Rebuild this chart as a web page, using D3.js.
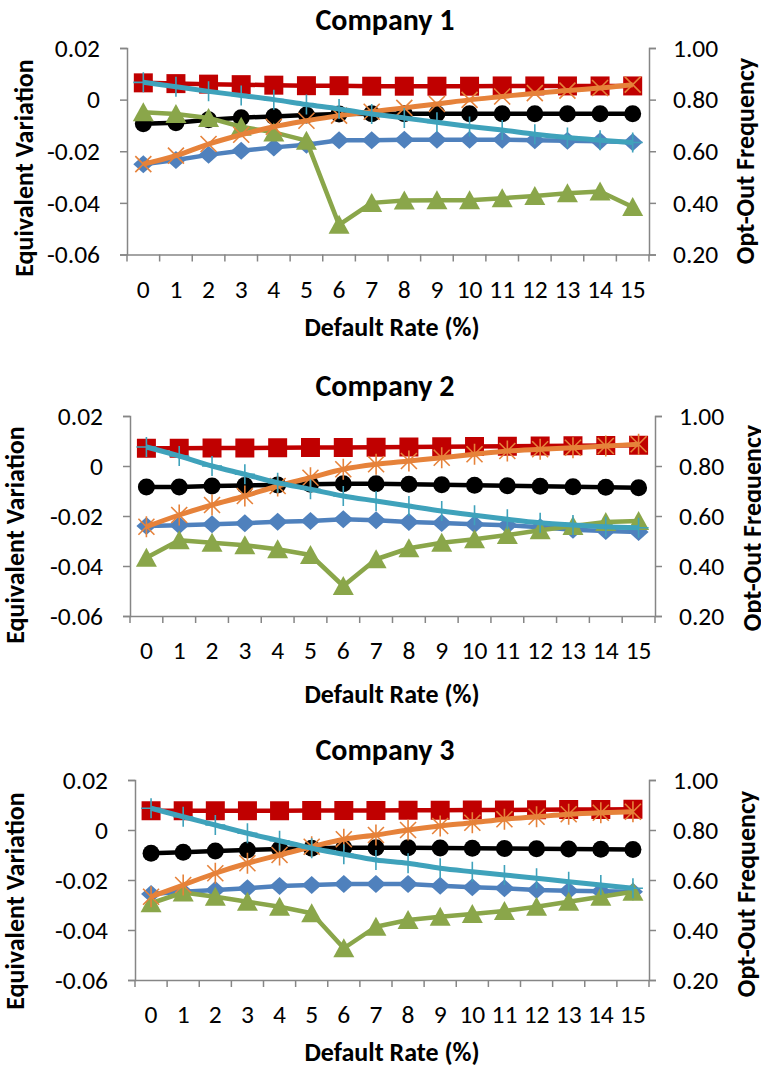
<!DOCTYPE html>
<html><head><meta charset="utf-8">
<script src="https://cdn.jsdelivr.net/npm/d3@7"></script>
<style>
html,body{margin:0;padding:0;background:#fff;}
svg{display:block;font-family:"Carlito","Open Sans",sans-serif;}
</style></head>
<body><svg id="chart" width="761" height="1069"></svg>
<script>
// ---------- data ----------
const categories = ["0","1","2","3","4","5","6","7","8","9","10","11","12","13","14","15"];
const evTicks = [0.02, 0, -0.02, -0.04, -0.06];
const evTickLabels = ["0.02","0","-0.02","-0.04","-0.06"];
const ofTicks = [1.0, 0.8, 0.6, 0.4, 0.2];
const ofTickLabels = ["1.00","0.80","0.60","0.40","0.20"];
const titles = ["Company 1","Company 2","Company 3"];

// Company 1 (left axis: equivalent variation; right axis: opt-out frequency)
const blue1  = [-0.025,-0.0234,-0.0214,-0.0198,-0.0185,-0.0175,-0.0157,-0.0157,-0.0155,-0.0155,-0.0155,-0.0155,-0.0157,-0.0159,-0.0161,-0.0165];
const red1   = [0.0065,0.0062,0.006,0.0058,0.0056,0.0054,0.0054,0.0052,0.0052,0.0052,0.0052,0.0053,0.0053,0.0053,0.0053,0.0053];
const black1 = [-0.0093,-0.009,-0.0078,-0.007,-0.0065,-0.006,-0.0056,-0.0055,-0.0055,-0.0055,-0.0055,-0.0055,-0.0055,-0.0055,-0.0055,-0.0055];
const green1 = [-0.0049,-0.0056,-0.0071,-0.0105,-0.0127,-0.0159,-0.0485,-0.040,-0.0391,-0.039,-0.039,-0.0382,-0.0373,-0.0363,-0.0356,-0.0416];
const orange1= [0.55,0.583,0.628,0.664,0.695,0.718,0.738,0.753,0.768,0.783,0.799,0.812,0.825,0.835,0.845,0.858];
const teal1  = [0.867,0.85,0.832,0.816,0.80,0.781,0.764,0.744,0.729,0.712,0.696,0.682,0.666,0.653,0.643,0.634];

// Company 2
const blue2  = [-0.024,-0.0237,-0.0233,-0.0229,-0.0223,-0.022,-0.0213,-0.0217,-0.0224,-0.0228,-0.0233,-0.0237,-0.0245,-0.0255,-0.026,-0.0264];
const red2   = [0.0071,0.0071,0.0072,0.0072,0.0073,0.0074,0.0074,0.0075,0.0076,0.0077,0.0078,0.0079,0.008,0.0081,0.0082,0.0083];
const black2 = [-0.0084,-0.0084,-0.008,-0.0078,-0.0076,-0.0073,-0.0071,-0.0071,-0.0073,-0.0075,-0.0077,-0.0079,-0.0081,-0.0083,-0.0085,-0.0087];
const green2 = [-0.0367,-0.0297,-0.0307,-0.0317,-0.0333,-0.0356,-0.048,-0.0373,-0.0329,-0.0307,-0.0293,-0.0276,-0.0257,-0.024,-0.0224,-0.022];
const orange2= [0.557,0.604,0.644,0.68,0.72,0.753,0.787,0.807,0.82,0.833,0.847,0.86,0.867,0.873,0.88,0.887];
const teal2  = [0.876,0.84,0.80,0.767,0.733,0.707,0.68,0.66,0.64,0.62,0.603,0.587,0.573,0.564,0.557,0.553];

// Company 3
const blue3  = [-0.0256,-0.0247,-0.024,-0.0233,-0.0224,-0.022,-0.0216,-0.0216,-0.0216,-0.0223,-0.0229,-0.0233,-0.024,-0.0243,-0.0245,-0.0247];
const red3   = [0.0077,0.0077,0.0077,0.0077,0.0077,0.0078,0.0078,0.0078,0.0079,0.0079,0.008,0.008,0.0081,0.0082,0.0082,0.0083];
const black3 = [-0.0093,-0.0089,-0.0084,-0.008,-0.0076,-0.0073,-0.0071,-0.0071,-0.0071,-0.0072,-0.0073,-0.0074,-0.0075,-0.0076,-0.0077,-0.0078];
const green3 = [-0.0293,-0.025,-0.0267,-0.0287,-0.0307,-0.0333,-0.0473,-0.0387,-0.036,-0.0347,-0.0336,-0.0324,-0.0307,-0.0287,-0.0267,-0.0247];
const orange3= [0.533,0.58,0.627,0.667,0.70,0.733,0.763,0.78,0.80,0.816,0.829,0.843,0.853,0.863,0.869,0.873];
const teal3  = [0.887,0.853,0.82,0.787,0.757,0.727,0.703,0.68,0.667,0.647,0.633,0.62,0.607,0.593,0.58,0.567];

// ---------- layout ----------
const layouts = [
  {l:127,r:649,t:48,b:254.5,titleY:30,xTickY:298,xTitleY:336,lTitleX:24,lTitleY:168,rTitleX:745,rTitleY:161},
  {l:130,r:655,t:416,b:616,titleY:396,xTickY:659,xTitleY:703,lTitleX:15,lTitleY:535,rTitleX:752,rTitleY:528},
  {l:135,r:649,t:780,b:980,titleY:760,xTickY:1023,xTitleY:1061,lTitleX:15,lTitleY:901,rTitleX:746,rTitleY:894}
];
const panels = [
  {ev:{blue:blue1,red:red1,black:black1,green:green1},of:{orange:orange1,teal:teal1},orangeMarker:"x"},
  {ev:{blue:blue2,red:red2,black:black2,green:green2},of:{orange:orange2,teal:teal2},orangeMarker:"star"},
  {ev:{blue:blue3,red:red3,black:black3,green:green3},of:{orange:orange3,teal:teal3},orangeMarker:"star"}
];
const colors = {blue:"#4F81BD",red:"#C00000",black:"#000000",green:"#8AA64A",orange:"#E6823A",teal:"#3FA2BB"};
const axisColor = "#868686";
const tickFont = 25.5, axisTitleFont = 26, titleFont = 30;
const svg = d3.select("#chart");

function markerPath(type){
  switch(type){
    case "diamond": return "M0,-9L10,0L0,9L-10,0Z";
    case "square": return "M-9.5,-9.5H9.5V9.5H-9.5Z";
    case "circle": return d3.symbol(d3.symbolCircle, Math.PI*8.5*8.5)();
    case "triangle": return "M0,-10L10.5,9L-10.5,9Z";
    case "x": return "M-8,-8L8,8M-8,8L8,-8";
    case "star": return "M-8,-8L8,8M-8,8L8,-8M0,-10.5V10.5";
    case "plus": return "M0,-10V10M-10,0H10";
  }
}

panels.forEach((p, i) => {
  const L = layouts[i];
  const g = svg.append("g");
  const x = d3.scaleBand().domain(categories).range([L.l, L.r]);
  const yL = d3.scaleLinear().domain([-0.06, 0.02]).range([L.b, L.t]);
  const yR = d3.scaleLinear().domain([0.2, 1.0]).range([L.b, L.t]);

  // axes
  const ax = g.append("g").attr("transform", `translate(0,${L.b})`)
    .call(d3.axisBottom(x).tickSize(0).tickFormat(""));
  ax.attr("font-family", null);
  ax.select(".domain").attr("stroke", axisColor).attr("stroke-width", 1.5);
  g.selectAll(".xt").data(d3.range(categories.length + 1)).join("line")
    .attr("x1", k => L.l + k * x.step()).attr("x2", k => L.l + k * x.step())
    .attr("y1", L.b).attr("y2", L.b + 7)
    .attr("stroke", axisColor).attr("stroke-width", 1.5);
  g.selectAll(".xl").data(categories).join("text")
    .attr("x", d => x(d) + x.bandwidth()/2).attr("y", L.xTickY)
    .attr("text-anchor", "middle").attr("font-size", tickFont).attr("fill", "#000").text(d => d);

  const la = g.append("g").attr("transform", `translate(${L.l},0)`)
    .call(d3.axisLeft(yL).tickValues(evTicks).tickSize(7).tickPadding(20)
      .tickFormat((d, k) => evTickLabels[k]));
  la.attr("font-family", null).attr("font-size", null);
  la.select(".domain").attr("stroke", axisColor).attr("stroke-width", 1.5);
  la.selectAll(".tick line").attr("stroke", axisColor).attr("stroke-width", 1.5);
  la.selectAll(".tick text").attr("font-size", tickFont).attr("fill", "#000");

  const ra = g.append("g").attr("transform", `translate(${L.r},0)`)
    .call(d3.axisRight(yR).tickValues(ofTicks).tickSize(7).tickPadding(17)
      .tickFormat((d, k) => ofTickLabels[k]));
  ra.attr("font-family", null).attr("font-size", null);
  ra.select(".domain").attr("stroke", axisColor).attr("stroke-width", 1.5);
  ra.selectAll(".tick line").attr("stroke", axisColor).attr("stroke-width", 1.5);
  ra.selectAll(".tick text").attr("font-size", tickFont).attr("fill", "#000");

  // titles
  g.append("text").attr("x", 385).attr("y", L.titleY).attr("text-anchor", "middle")
    .attr("font-size", titleFont).attr("font-weight", "bold").text(titles[i]);
  g.append("text").attr("x", 392).attr("y", L.xTitleY).attr("text-anchor", "middle")
    .attr("font-size", axisTitleFont).attr("font-weight", "bold").text("Default Rate (%)");
  g.append("text").attr("transform", `translate(${L.lTitleX},${L.lTitleY}) rotate(-90)`)
    .attr("dy", "0.35em").attr("text-anchor", "middle")
    .attr("font-size", axisTitleFont).attr("font-weight", "bold").text("Equivalent Variation");
  g.append("text").attr("transform", `translate(${L.rTitleX},${L.rTitleY}) rotate(-90)`)
    .attr("dy", "0.35em").attr("text-anchor", "middle")
    .attr("font-size", axisTitleFont).attr("font-weight", "bold").text("Opt-Out Frequency");

  const cx = k => x(categories[k]) + x.bandwidth()/2;
  const series = [
    {key:"blue", vals:p.ev.blue, y:yL, marker:"diamond", fill:true, w:4.5, curve:d3.curveLinear},
    {key:"black", vals:p.ev.black, y:yL, marker:"circle", fill:true, w:4.5, curve:d3.curveLinear},
    {key:"red", vals:p.ev.red, y:yL, marker:"square", fill:true, w:4.5, curve:d3.curveLinear},
    {key:"green", vals:p.ev.green, y:yL, marker:"triangle", fill:true, w:4.5, curve:d3.curveLinear},
    {key:"orange", vals:p.of.orange, y:yR, marker:p.orangeMarker, fill:false, w:5, curve:d3.curveMonotoneX},
    {key:"teal", vals:p.of.teal, y:yR, marker:"plus", fill:false, w:5, curve:d3.curveMonotoneX}
  ];
  series.forEach(s => {
    const line = d3.line().x((d, k) => cx(k)).y(d => s.y(d)).curve(s.curve);
    g.append("path").attr("d", line(s.vals)).attr("fill", "none")
      .attr("stroke", colors[s.key]).attr("stroke-width", s.w).attr("stroke-linejoin", "round");
    g.selectAll(null).data(s.vals).join("path")
      .attr("transform", (d, k) => `translate(${cx(k)},${s.y(d)})`)
      .attr("d", markerPath(s.marker))
      .attr("fill", s.fill ? colors[s.key] : "none")
      .attr("stroke", colors[s.key]).attr("stroke-width", s.fill ? 0 : 1.6);
  });
});
</script></body></html>
